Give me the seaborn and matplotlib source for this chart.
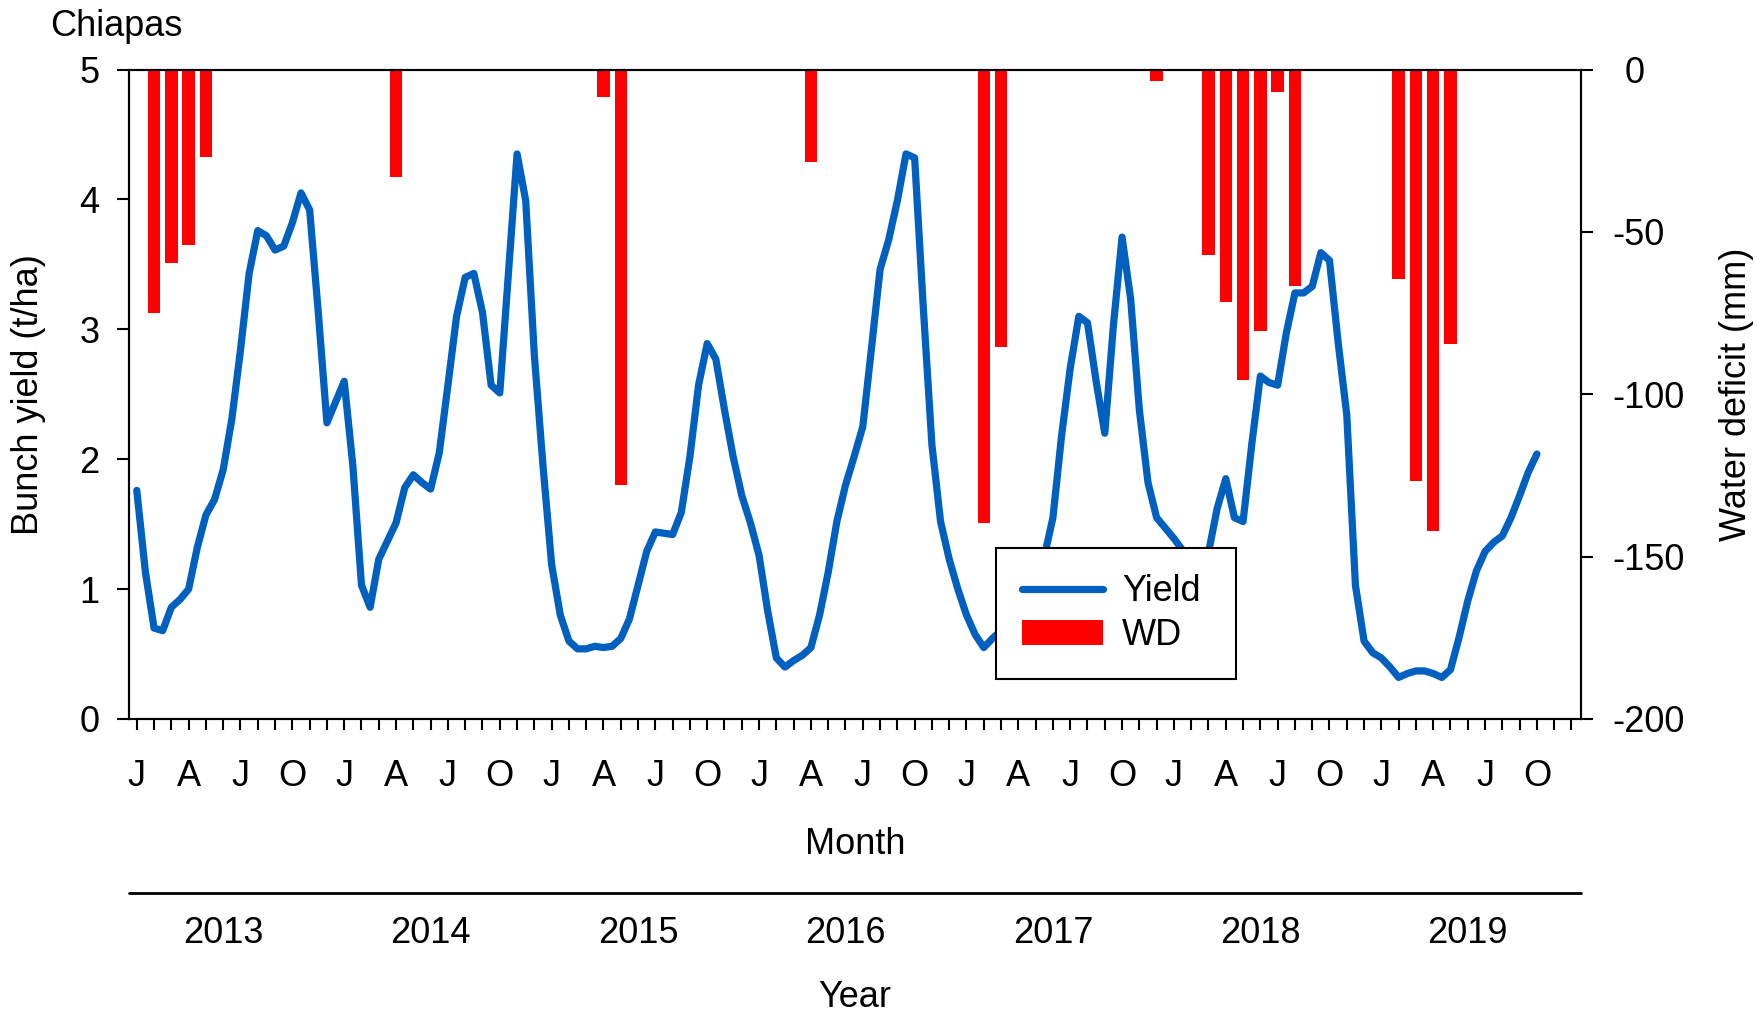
import numpy as np
import pandas as pd
import matplotlib
matplotlib.use("Agg")
import matplotlib.pyplot as plt
import matplotlib.transforms as mtransforms
from matplotlib.lines import Line2D
from matplotlib.patches import Patch
import seaborn as sns

# ---------------- data ----------------
title_text = "Chiapas"
year_labels = ["2013", "2014", "2015", "2016", "2017", "2018", "2019"]
month_letters = ["J", "A", "J", "O"]          # Jan, Apr, Jul, Oct

# months since Jan 2013, read every half month
yield_month = np.arange(0, 81.5, 0.5)
yield_t_ha = [
    1.76, 1.13, 0.70, 0.68, 0.86, 0.92, 1.00, 1.32, 1.57, 1.69,
    1.92, 2.31, 2.84, 3.43, 3.76, 3.72, 3.61, 3.64, 3.82, 4.05,
    3.92, 3.13, 2.28, 2.44, 2.60, 1.95, 1.03, 0.86, 1.23, 1.37,
    1.51, 1.78, 1.88, 1.82, 1.77, 2.05, 2.57, 3.10, 3.40, 3.43,
    3.13, 2.57, 2.51, 3.43, 4.35, 3.99, 2.80, 1.95, 1.19, 0.80,
    0.60, 0.54, 0.54, 0.56, 0.55, 0.56, 0.62, 0.77, 1.03, 1.29,
    1.44, 1.43, 1.42, 1.59, 2.02, 2.57, 2.89, 2.77, 2.38, 2.02,
    1.72, 1.51, 1.26, 0.83, 0.47, 0.40, 0.45, 0.49, 0.55, 0.80,
    1.13, 1.52, 1.80, 2.02, 2.25, 2.85, 3.46, 3.69, 3.99, 4.35,
    4.32, 3.17, 2.11, 1.52, 1.23, 1.00, 0.80, 0.65, 0.55, 0.62,
    0.68, 0.75, 0.85, 0.98, 1.10, 1.25, 1.55, 2.18, 2.70, 3.10,
    3.05, 2.60, 2.20, 3.03, 3.71, 3.23, 2.38, 1.82, 1.55, 1.47,
    1.39, 1.30, 1.20, 1.15, 1.28, 1.62, 1.85, 1.55, 1.52, 2.11,
    2.64, 2.59, 2.57, 2.97, 3.28, 3.28, 3.33, 3.59, 3.53, 2.90,
    2.34, 1.03, 0.60, 0.51, 0.47, 0.40, 0.32, 0.35, 0.37, 0.37,
    0.35, 0.32, 0.38, 0.63, 0.91, 1.14, 1.29, 1.36, 1.41, 1.55,
    1.72, 1.90, 2.04,
]

wd_month = [1, 2, 3, 4, 15, 27, 28, 39, 49, 50, 59,
            62, 63, 64, 65, 66, 67, 73, 74, 75, 76]
wd_mm = [-75.0, -59.5, -54.0, -27.0, -33.0, -8.5, -128.0, -28.5, -139.5, -85.5, -3.5,
         -57.0, -71.5, -95.5, -80.5, -7.0, -66.8, -64.4, -126.6, -142.2, -84.5]

left_ticks = [0, 1, 2, 3, 4, 5]
right_ticks = [0, -50, -100, -150, -200]

# ---------------- style ----------------
sns.set_style("ticks")
plt.rcParams["font.family"] = ["Liberation Sans", "DejaVu Sans"]
plt.rcParams["axes.unicode_minus"] = False
for key in ("text.color", "axes.labelcolor", "xtick.color", "ytick.color", "axes.edgecolor"):
    plt.rcParams[key] = "black"
FS = 26
BLUE = "#0060C0"
RED = "#FF0000"
LW = 5.2
W_PX, H_PX = 1757, 1016

fig = plt.figure(figsize=(W_PX / 100, H_PX / 100), dpi=100)
L, R, T, B = 129 / W_PX, 1581 / W_PX, 1 - 69.5 / H_PX, 1 - 719 / H_PX
ax1 = fig.add_axes([L, B, R - L, T - B])
ax2 = ax1.twinx()
ax1.set_zorder(ax2.get_zorder() + 1)
ax1.patch.set_visible(False)

df_wd = pd.DataFrame({"month": wd_month, "wd": wd_mm})
sns.barplot(data=df_wd, x="month", y="wd", native_scale=True, width=0.72,
            color=RED, saturation=1, linewidth=0, ax=ax2)

df_y = pd.DataFrame({"month": yield_month, "yield": yield_t_ha})
sns.lineplot(data=df_y, x="month", y="yield", color=BLUE, linewidth=LW,
             solid_capstyle="round", solid_joinstyle="round", ax=ax1)

# axes limits / ticks
ax1.set_xlim(-0.45, 83.55)
ax1.set_ylim(0, 5)
ax2.set_ylim(-200, 0)
for ax in (ax1, ax2):
    ax.set_xlabel("")
    ax.set_ylabel("")

n_months = 84
ax1.set_xticks(np.arange(n_months))
ax1.set_xticklabels([month_letters[(m % 12) // 3] if m % 3 == 0 else "" for m in range(n_months)],
                    fontsize=FS)
ax1.tick_params(axis="x", direction="out", length=8, width=1.5, pad=21, colors="black")
ax1.set_yticks(left_ticks)
ax1.set_yticklabels([str(v) for v in left_ticks], fontsize=FS)
ax1.tick_params(axis="y", direction="out", length=8.6, width=1.5, pad=12.5, colors="black")
ax2.set_yticks(right_ticks)
ax2.set_yticklabels([str(v) for v in right_ticks], fontsize=FS)
ax2.tick_params(axis="y", direction="out", length=8.6, width=1.5, pad=14, colors="black")

for ax in (ax1, ax2):
    for s in ax.spines.values():
        s.set_visible(True)
        s.set_linewidth(1.5)
        s.set_color("black")

# labels
fig.text(50 / W_PX, 1 - 36 / H_PX, title_text, fontsize=FS, ha="left", va="baseline")
fig.text(29 / W_PX, (T + B) / 2, "Bunch yield (t/ha)", fontsize=FS, rotation=90,
         ha="center", va="center")
fig.text(1737 / W_PX, (T + B) / 2, "Water deficit (mm)", fontsize=FS, rotation=90,
         ha="center", va="center")
fig.text((L + R) / 2, 1 - 854 / H_PX, "Month", fontsize=FS, ha="center", va="baseline")
fig.text((L + R) / 2, 1 - 1007 / H_PX, "Year", fontsize=FS, ha="center", va="baseline")

# year axis line and labels
blend_ax = mtransforms.blended_transform_factory(ax1.transAxes, fig.transFigure)
ax1.add_artist(Line2D([0, 1], [1 - 893 / H_PX] * 2, transform=blend_ax, color="black",
                      lw=2, clip_on=False))
blend_data = mtransforms.blended_transform_factory(ax1.transData, fig.transFigure)
for k, yl in enumerate(year_labels):
    ax1.text(12 * k + 5, 1 - 943 / H_PX, yl, transform=blend_data, fontsize=FS,
             ha="center", va="baseline", clip_on=False)

# legend
handles = [Line2D([], [], color=BLUE, lw=LW, solid_capstyle="round"),
           Patch(facecolor=RED, edgecolor="none")]
leg_w = (1103 - 889) / (1410 - 115)
leg = ax1.legend(handles, ["Yield", "WD"], loc="upper left",
                 bbox_to_anchor=(0.597, 0.263, leg_w, 0), mode="expand",
                 fontsize=FS, frameon=True, fancybox=False, framealpha=1, edgecolor="black",
                 borderpad=0.72, labelspacing=0.25, handlelength=2.25, handletextpad=0.53,
                 borderaxespad=0)
leg.get_frame().set_linewidth(1.5)
leg.set_zorder(10)

# shift right-axis "0" so digits align as in the original
fig.canvas.draw()
offset = mtransforms.ScaledTranslation(12 / 100, 0, fig.dpi_scale_trans)
for tick in ax2.yaxis.get_major_ticks():
    if tick.label2.get_text() == "0":
        tick.label2.set_transform(tick.label2.get_transform() + offset)

fig.savefig("out.png", dpi=100)
